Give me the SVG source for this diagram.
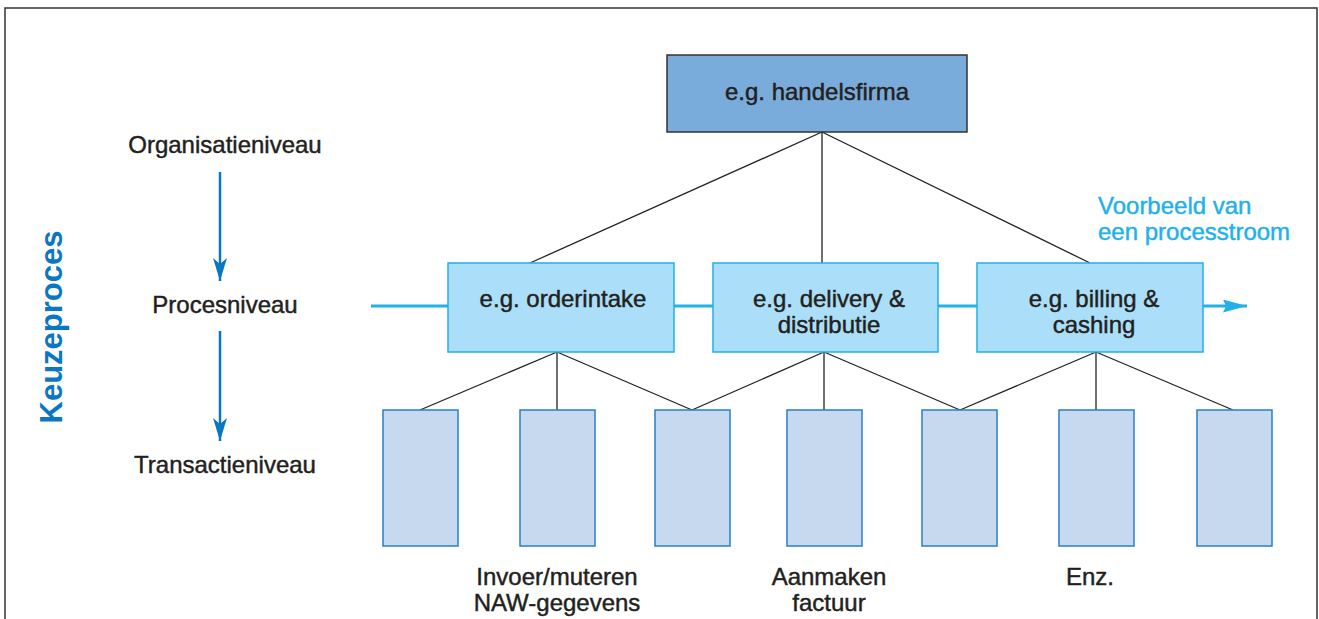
<svg xmlns="http://www.w3.org/2000/svg" width="1319" height="619" viewBox="0 0 1319 619">
  <defs>
    <style>
      text { font-family: "Liberation Sans", Arial, sans-serif; fill: #231f20; }
      .lbl { font-size: 24px; text-anchor: middle; stroke: #231f20; stroke-width: 0.45; }
      .blue { fill: #1fb1e8; stroke: #1fb1e8; stroke-width: 0.45; font-size: 24px; }
      .org { fill: #79acdb; stroke: #333333; stroke-width: 1.5; }
      .proc { fill: #abdff9; stroke: #1fb1e8; stroke-width: 1.5; }
      .trans { fill: #c6d9ef; stroke: #2a80c5; stroke-width: 1.5; }
      .link { stroke: #222222; stroke-width: 1.3; fill: none; }
      .flow { stroke: #1fb1e8; stroke-width: 3; fill: none; }
      .level { stroke: #0b77c2; stroke-width: 2.5; fill: none; }
    </style>
    <marker id="levelHead" viewBox="0 0 23 14" refX="23" refY="7" markerUnits="userSpaceOnUse" markerWidth="23" markerHeight="14" orient="auto">
      <path d="M0,0 L23,7 L0,14 L6,7 Z" fill="#0b77c2"/>
    </marker>
    <marker id="flowHead" viewBox="0 0 24 13" refX="24" refY="6.5" markerUnits="userSpaceOnUse" markerWidth="24" markerHeight="13" orient="auto">
      <path d="M0,0 L24,6.5 L0,13 L3,6.5 Z" fill="#1fb1e8"/>
    </marker>
  </defs>

  <!-- frame -->
  <path d="M5,619 V8 H1317 V619" fill="none" stroke="#333333" stroke-width="1.5"/>

  <!-- level column -->
  <g id="levels">
    <text class="lbl" x="225" y="153">Organisatieniveau</text>
    <text class="lbl" x="225" y="313">Procesniveau</text>
    <text class="lbl" x="225" y="473">Transactieniveau</text>
    <text x="62" y="327" transform="rotate(-90 62 327)" text-anchor="middle" font-size="31" font-weight="bold" style="fill:#0b77c2">Keuzeproces</text>
  </g>

  <!-- connectors -->
  <g id="connectors">
    <line class="level" x1="220" y1="172" x2="220" y2="281" marker-end="url(#levelHead)"/>
    <line class="level" x1="220" y1="331" x2="220" y2="441" marker-end="url(#levelHead)"/>

    <line class="link" x1="822" y1="132" x2="530" y2="263"/>
    <line class="link" x1="822" y1="132" x2="822" y2="263"/>
    <line class="link" x1="822" y1="132" x2="1090" y2="263"/>

    <line class="link" x1="557" y1="352" x2="420" y2="410"/>
    <line class="link" x1="557" y1="352" x2="557" y2="410"/>
    <line class="link" x1="557" y1="352" x2="692" y2="410"/>
    <line class="link" x1="824" y1="352" x2="692" y2="410"/>
    <line class="link" x1="824" y1="352" x2="824" y2="410"/>
    <line class="link" x1="824" y1="352" x2="960" y2="410"/>
    <line class="link" x1="1096" y1="352" x2="960" y2="410"/>
    <line class="link" x1="1096" y1="352" x2="1096" y2="410"/>
    <line class="link" x1="1096" y1="352" x2="1233" y2="410"/>

    <line class="flow" x1="371" y1="306" x2="448" y2="306"/>
    <line class="flow" x1="674" y1="306" x2="713" y2="306"/>
    <line class="flow" x1="938" y1="306" x2="977" y2="306"/>
    <line class="flow" x1="1203" y1="306" x2="1247" y2="306" marker-end="url(#flowHead)"/>
  </g>

  <!-- organisation -->
  <g id="org">
    <rect class="org" x="667" y="55" width="300" height="77"/>
    <text class="lbl" x="817" y="100">e.g. handelsfirma</text>
  </g>

  <!-- processes -->
  <g id="proc-orderintake">
    <rect class="proc" x="448" y="263" width="226" height="89"/>
    <text class="lbl" x="563" y="307">e.g. orderintake</text>
  </g>
  <g id="proc-delivery">
    <rect class="proc" x="713" y="263" width="225" height="89"/>
    <text class="lbl" x="829" y="307">e.g. delivery &amp;</text>
    <text class="lbl" x="829" y="333">distributie</text>
  </g>
  <g id="proc-billing">
    <rect class="proc" x="977" y="263" width="226" height="89"/>
    <text class="lbl" x="1094" y="307">e.g. billing &amp;</text>
    <text class="lbl" x="1094" y="333">cashing</text>
  </g>

  <g id="flow-note">
    <text class="blue" x="1098" y="214">Voorbeeld van</text>
    <text class="blue" x="1098" y="240">een processtroom</text>
  </g>

  <!-- transactions -->
  <g id="trans-1"><rect class="trans" x="383" y="410" width="75" height="136"/></g>
  <g id="trans-2"><rect class="trans" x="520" y="410" width="75" height="136"/></g>
  <g id="trans-3"><rect class="trans" x="655" y="410" width="75" height="136"/></g>
  <g id="trans-4"><rect class="trans" x="787" y="410" width="75" height="136"/></g>
  <g id="trans-5"><rect class="trans" x="922" y="410" width="75" height="136"/></g>
  <g id="trans-6"><rect class="trans" x="1059" y="410" width="75" height="136"/></g>
  <g id="trans-7"><rect class="trans" x="1197" y="410" width="75" height="136"/></g>

  <g id="trans-labels">
    <text class="lbl" x="557" y="585">Invoer/muteren</text>
    <text class="lbl" x="557" y="611">NAW-gegevens</text>
    <text class="lbl" x="829" y="585">Aanmaken</text>
    <text class="lbl" x="829" y="611">factuur</text>
    <text class="lbl" x="1090" y="585">Enz.</text>
  </g>
</svg>
